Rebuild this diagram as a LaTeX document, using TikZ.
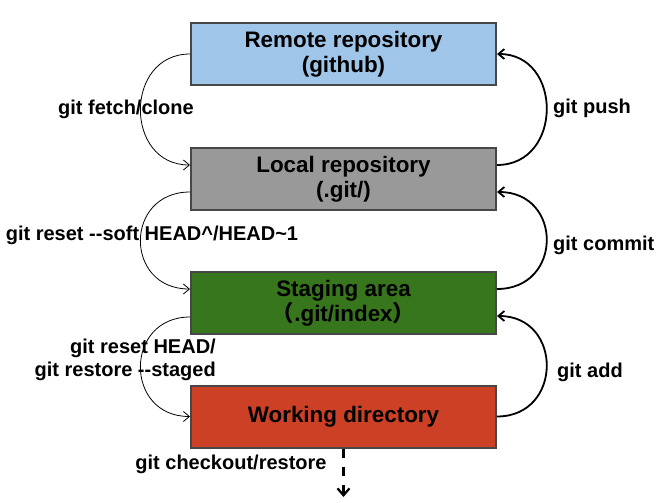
\documentclass[tikz,border=0pt]{standalone}
\usepackage{fontspec}
\setmainfont{Liberation Sans}
\newfontfamily\cjk{Noto Sans CJK SC}
\usetikzlibrary{arrows.meta}

\definecolor{remotecol}{HTML}{9FC5E8}
\definecolor{localcol}{HTML}{999999}
\definecolor{stagecol}{HTML}{38761D}
\definecolor{workcol}{HTML}{CC4125}

\begin{document}
\begin{tikzpicture}[x=1pt, y=-1pt, >={Straight Barb[length=6pt,width=10pt]}]

% styles
\tikzset{
  area/.style={draw=black!72, line width=2pt, minimum width=305pt, minimum height=62pt,
    align=center, font=\fontsize{22.4}{25}\selectfont\bfseries, inner sep=0pt},
  pull/.style={->, line width=0.8pt},
  push/.style={->, line width=1.8pt},
  cmd/.style={font=\fontsize{20}{22}\selectfont\bfseries, inner sep=0pt},
  leave/.style={-{Straight Barb[length=7pt,width=12pt]}, line width=2.2pt, dash pattern=on 9pt off 9pt},
}

\useasboundingbox (0,0) rectangle (669,503);

% the four areas
\node[area, fill=remotecol] (remote) at (343.5,54) {Remote repository\\(github)};
\node[area, fill=localcol] (local) at (343.5,179) {Local repository\\(.git/)};
\node[area, fill=stagecol] (stage) at (343.5,303) {Staging area\\{\cjk （}.git/index{\cjk ）}};
\node[area, fill=workcol] (work) at (343.5,416.5) {Working directory};

% left side: towards the working copy
\draw[pull] (remote.west) .. controls +(-66,0) and +(-66,0) .. ([yshift=14pt]local.west);
\draw[pull] ([yshift=-13pt]local.west) .. controls +(-66,0) and +(-66,0) .. ([yshift=14pt]stage.west);
\draw[pull] ([yshift=-14pt]stage.west) .. controls +(-66,0) and +(-66,0) .. (work.west);

% right side: towards the remote
\draw[push] (work.east) .. controls +(66,0) and +(66,0) .. ([yshift=-13pt]stage.east);
\draw[push] ([yshift=14pt]stage.east) .. controls +(66,0) and +(66,0) .. ([yshift=-13pt]local.east);
\draw[push] ([yshift=14pt]local.east) .. controls +(66,0) and +(66,0) .. (remote.east);

% discard changes
\coordinate (gone) at (343.5,497);
\draw[leave] (work.south) -- (gone);

% commands
\node[cmd] (fetch) at (126,109) {git fetch/clone};
\node[cmd] (soft) at (152,235) {git reset -{}-soft HEAD\textasciicircum/HEAD\textasciitilde1};
\node[cmd, align=right, anchor=east] (unstage) at (216,360)
  {git reset HEAD/\\[1pt]git restore -{}-staged};
\node[cmd, anchor=west] (pushlbl) at (553,108) {git push};
\node[cmd, anchor=west] (commit) at (553,245) {git commit};
\node[cmd, anchor=west] (add) at (557,372) {git add};
\node[cmd] (checkout) at (231,464) {git checkout/restore};

\end{tikzpicture}
\end{document}
